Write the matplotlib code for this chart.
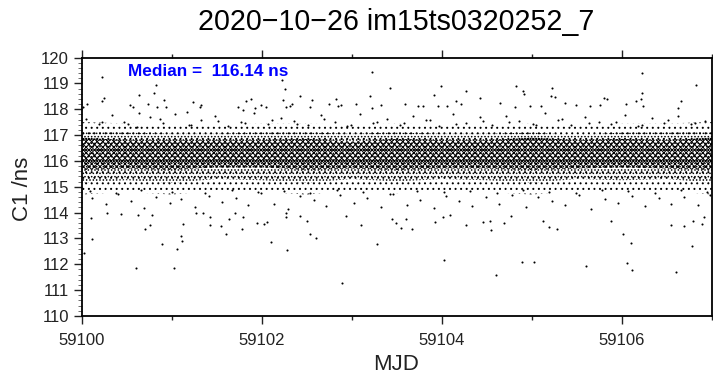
import matplotlib
matplotlib.use('Agg')
import matplotlib.pyplot as plt
from matplotlib.ticker import MultipleLocator

plt.rcParams['font.family'] = ['Liberation Sans', 'DejaVu Sans']
plt.rcParams['hatch.linewidth'] = 0.7

mjd_start = 59100

# isolated points, days after 59100 / ns
high_days = [0.233,0.832,0.803,0.640,0.248,0.233,0.921,0.063,0.018,0.544,0.573,0.740,0.840,0.936,0.640,1.239,1.324,1.320,1.172,
             2.230,2.260,2.237,2.422,2.563,2.533,2.267,2.311,2.334,2.748,2.822,2.848,2.885,1.831,1.886,1.738,1.794,1.923,1.997,2.053,3.051,
             3.227,3.423,3.201,3.996,3.911,4.266,4.421,4.160,4.218,4.820,4.906,4.909,5.228,5.217,5.257,5.372,5.487,5.797,5.834,
             6.219,6.226,6.215,6.152,6.659,6.818,3.589,3.330,3.223,3.737,3.793,3.959,4.059,4.651,4.810,4.984,5.106,5.642,5.753,6.049,6.235,6.622]
high_vals = [119.24,118.94,118.62,118.56,118.43,118.32,118.35,118.20,118.09,118.17,118.07,118.20,118.07,118.09,117.86,118.27,118.17,118.07,117.89,
             119.12,118.80,118.35,118.52,118.36,118.07,118.09,118.12,118.22,118.20,118.40,118.12,118.16,118.32,118.40,118.07,117.96,118.03,118.16,118.09,118.20,
             119.42,118.83,118.51,118.90,118.56,118.71,118.43,118.32,118.22,118.88,118.71,118.58,118.81,118.51,118.47,118.25,118.17,118.44,118.39,
             119.41,118.64,118.38,118.32,118.32,118.94,118.20,118.16,118.05,118.12,118.12,118.12,118.12,118.25,118.09,118.12,118.12,118.14,118.17,118.20,118.12,118.03]

low_days = [0.030,0.118,0.107,0.610,1.024,1.065,0.895,1.117,1.106,1.132,0.700,0.766,0.788,1.428,1.550,1.605,1.638,1.783,1.701,1.794,
            1.949,2.023,2.060,2.100,2.286,2.541,2.600,2.504,2.888,2.940,2.267,2.274,2.422,0.285,0.436,0.629,1.276,1.350,1.424,
            3.286,4.022,4.603,4.887,5.020,5.601,6.056,6.108,6.596,6.773,6.097,6.015,5.279,5.190,5.127,4.547,4.270,3.922,3.667,3.548,3.497,3.604,3.452,3.101,
            6.540,6.688,6.788,6.884,6.914,5.882,4.691,4.536,4.458,4.088,4.015,4.773]
low_vals = [112.45,112.99,113.78,111.85,111.85,112.59,112.77,112.90,113.08,113.56,113.37,113.52,113.92,113.52,113.48,113.16,113.77,113.38,113.98,113.84,
            113.60,113.55,113.62,112.86,112.55,113.19,113.01,113.69,111.29,113.88,113.82,113.97,113.87,114.00,113.93,113.91,114.00,114.00,113.82,
            112.80,112.16,111.59,112.08,112.09,111.92,112.04,111.77,111.70,112.71,112.81,113.19,113.37,113.43,113.69,113.33,113.53,113.62,113.38,113.42,113.61,113.77,113.74,113.53,
            113.53,113.47,113.68,113.57,113.82,113.68,113.61,113.69,113.65,113.89,113.82,113.87]

# the cloud holds thousands of points that can't be read one by one:
# its density is drawn as stippled bands with edges read by eye, every half day
band_days = [0,0.5,1,1.5,2,2.5,3,3.5,4,4.5,5,5.5,6,6.5,7]
outer_low = [114.7,114.8,114.7,114.85,114.8,114.7,114.85,114.75,114.85,114.8,114.7,114.85,114.8,114.85,114.7]
outer_high = [117.5,117.45,117.4,117.4,117.45,117.45,117.4,117.45,117.4,117.4,117.45,117.35,117.45,117.45,117.5]
mid_low = [115.15,115.25,115.15,115.3,115.25,115.15,115.3,115.2,115.3,115.25,115.15,115.3,115.25,115.3,115.15]
mid_high = [117.15,117.1,117.05,117.05,117.1,117.1,117.05,117.1,117.05,117.05,117.1,117.0,117.1,117.1,117.15]
core_low = [115.65,115.7,115.65,115.75,115.75,115.65,115.7,115.65,115.7,115.7,115.65,115.7,115.75,115.7,115.65]
core_high = [116.9,116.8,116.8,116.8,116.8,116.85,116.75,116.85,116.8,116.8,116.9,116.8,116.85,116.8,116.9]

# sample of the fringe of the cloud, estimated by eye
fringe_days = [0.05,0.12,0.19,0.27,0.34,0.41,0.47,0.55,0.62,0.69,0.76,0.83,0.91,0.98,1.04,1.11,1.19,1.26,1.33,1.41,1.48,1.56,1.63,1.71,1.77,1.85,1.92,1.99,2.07,2.14,
               2.21,2.29,2.36,2.43,2.51,2.58,2.66,2.72,2.81,2.87,2.95,3.02,3.09,3.17,3.24,3.32,3.39,3.46,3.54,3.61,3.68,3.76,3.83,3.91,3.97,4.05,4.12,4.19,4.27,4.34,
               4.42,4.49,4.56,4.63,4.71,4.78,4.86,4.93,5.01,5.07,5.15,5.22,5.29,5.37,5.44,5.52,5.59,5.66,5.74,5.81,5.88,5.96,6.03,6.11,6.18,6.26,6.33,6.41,6.47,6.55,
               6.62,6.69,6.77,6.84,6.92,6.98,0.09,0.23,0.38,0.52,0.66,0.87,1.01,1.22,1.37,1.52,1.67,1.81,1.96,2.11,2.25,2.39,2.54,2.69,2.84,2.99,3.13,3.28,3.43,3.58,
               3.72,3.87,4.02,4.16,4.31,4.46,4.61,4.75,4.9,5.05,5.19,5.34,5.49,5.63,5.78,5.93,6.07,6.22,6.37,6.51,6.66,6.81,6.95]
fringe_vals = [117.62,114.55,117.41,114.32,117.78,114.71,117.52,114.44,117.33,114.18,117.69,114.62,117.45,114.37,117.81,114.53,117.38,114.21,117.58,114.66,117.72,114.41,117.36,114.58,117.49,114.29,117.84,114.74,117.43,114.35,
               117.67,114.12,117.55,114.63,117.39,114.47,117.76,114.25,117.51,114.69,117.34,114.39,117.83,114.56,117.46,114.2,117.64,114.72,117.4,114.31,117.73,114.5,117.57,114.16,117.35,114.65,117.8,114.43,117.48,114.27,
               117.68,114.59,117.37,114.34,117.75,114.7,117.53,114.22,117.42,114.61,117.86,114.45,117.6,114.3,117.38,114.68,117.71,114.15,117.5,114.52,117.44,114.38,117.79,114.64,117.36,114.24,117.66,114.57,117.47,114.33,
               117.74,114.6,117.41,114.28,117.56,114.67,114.82,117.5,114.77,117.44,114.86,117.61,114.8,117.4,114.75,117.55,114.88,117.47,114.79,117.58,114.84,117.43,114.76,117.63,114.87,117.39,114.81,117.52,114.73,117.46,
               114.85,117.59,114.78,117.42,114.83,117.54,114.74,117.49,114.89,117.37,114.8,117.62,114.76,117.45,114.86,117.51,114.82,117.4,114.75,117.57,114.88,117.48,114.79]

fig = plt.figure(figsize=(7.13, 3.78), dpi=100)
ax = fig.add_axes([81.5/713, 1 - 316/378, 630.5/713, 258.5/378])

ax.fill_between(band_days, outer_low, outer_high, facecolor='none', edgecolor='k', hatch='...', lw=0)
ax.fill_between(band_days, mid_low, mid_high, facecolor='none', edgecolor='k', hatch='.....', lw=0)
ax.fill_between(band_days, core_low, core_high, facecolor='none', edgecolor='k', hatch='xxxxxx', lw=0)
ax.plot(high_days, high_vals, ls='', marker='o', ms=1.5, mew=0, color='k')
ax.plot(low_days, low_vals, ls='', marker='o', ms=1.5, mew=0, color='k')
ax.plot(fringe_days, fringe_vals, ls='', marker='o', ms=1.5, mew=0, color='k')

ax.set_xlim(0, 7)
ax.set_ylim(110, 120)
ax.xaxis.set_major_locator(MultipleLocator(2))
ax.xaxis.set_minor_locator(MultipleLocator(1))
ax.xaxis.set_major_formatter(lambda v, pos: str(int(mjd_start + v)))
ax.yaxis.set_major_locator(MultipleLocator(1))
ax.yaxis.set_minor_locator(MultipleLocator(0.2))
ax.tick_params(axis='x', which='major', direction='out', bottom=True, top=True, length=6, width=1, labelsize=12, pad=6, colors='#222222')
ax.tick_params(axis='x', which='minor', direction='out', bottom=True, top=True, length=3, width=1, color='#222222')
ax.tick_params(axis='y', which='major', length=6, width=1, labelsize=12, pad=3, colors='#222222')
ax.tick_params(axis='y', which='minor', length=3, width=0.6, color='#555555')
for s in ax.spines.values():
    s.set_linewidth(1.3)

fig.text(396/713, 1 - 22/378, '2020\u221210\u221226 im15ts0320252_7', ha='center', va='center', fontsize=20.6)
fig.text(396/713, 1 - 364/378, 'MJD', ha='center', va='center', fontsize=16, color='#222222')
fig.text(22/713, 1 - 189/378, 'C1 /ns', ha='center', va='center', rotation=90, fontsize=16, color='#222222')
fig.text(208/713, 1 - 71/378, 'Median =  116.14 ns', ha='center', va='center', fontsize=12.4, fontweight='bold', color='#0000ff')

fig.savefig('out.png', dpi=100)
